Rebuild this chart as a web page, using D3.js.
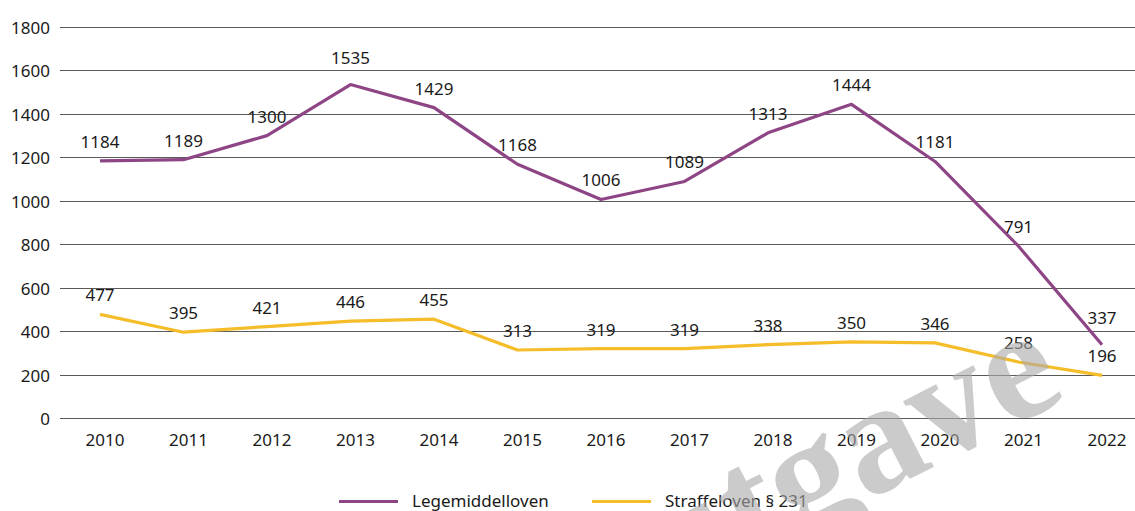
<!DOCTYPE html>
<html>
<head>
<meta charset="utf-8">
<script src="https://cdn.jsdelivr.net/npm/d3@7"></script>
<style>
  body { margin: 0; background: #fff; }
  text { font-family: "Noto Sans", "Open Sans", sans-serif; fill: #1a1a1a; }
</style>
</head>
<body>
<div class="container"></div>
<script>
var years = [2010, 2011, 2012, 2013, 2014, 2015, 2016, 2017, 2018, 2019, 2020, 2021, 2022];
var legemiddelloven = [1184, 1189, 1300, 1535, 1429, 1168, 1006, 1089, 1313, 1444, 1181, 791, 337];
var straffeloven = [477, 395, 421, 446, 455, 313, 319, 319, 338, 350, 346, 258, 196];
var yTicks = [0, 200, 400, 600, 800, 1000, 1200, 1400, 1600, 1800];
var seriesNames = ['Legemiddelloven', 'Straffeloven § 231'];

const WIDTH = 1135;
const HEIGHT = 511;
const PURPLE = '#8e4585';
const YELLOW = '#f5bd2a';

var _svg = d3.select('.container').append('svg')
  .attr('width', WIDTH)
  .attr('height', HEIGHT);

var _xScale = d3.scalePoint().domain(years).range([100, 1102]);
var _yScale = d3.scaleLinear().domain([0, 1800]).range([418, 27]);

// grid + y labels
var grid = _svg.append('g');
yTicks.forEach(function (t) {
  var y = Math.round(_yScale(t)) + 0.5;
  grid.append('line')
    .attr('x1', 60).attr('x2', WIDTH)
    .attr('y1', y).attr('y2', y)
    .attr('stroke', '#5a5a5a').attr('stroke-width', 1);
  grid.append('text')
    .attr('x', 50).attr('y', y + 6)
    .attr('text-anchor', 'end')
    .style('font-size', '17px')
    .text(t);
});

// x labels
_svg.append('g').selectAll('text')
  .data(years).enter().append('text')
  .attr('x', function (d) { return _xScale(d) + 5; })
  .attr('y', 446)
  .attr('text-anchor', 'middle')
  .style('font-size', '17px')
  .text(function (d) { return d; });

var _line = d3.line()
  .x(function (q, i) { return _xScale(years[i]); })
  .y(function (q) { return _yScale(q); });

var drawSeries = function (values, color, raised) {
  _svg.append('path')
    .attr('d', _line(values))
    .attr('fill', 'none')
    .attr('stroke', color)
    .attr('stroke-width', 3.2)
    .attr('stroke-linejoin', 'round');
  _svg.append('g').selectAll('text')
    .data(values).enter().append('text')
    .attr('x', function (d, i) { return _xScale(years[i]); })
    .attr('y', function (d, i) {
      return _yScale(d) - (raised.indexOf(i) >= 0 ? 21 : 13);
    })
    .attr('text-anchor', 'middle')
    .style('font-size', '17px')
    .text(function (d) { return d; });
};

drawSeries(straffeloven, YELLOW, []);
drawSeries(legemiddelloven, PURPLE, [3, 12]);

// legend
var legend = _svg.append('g');
[[PURPLE, 339, seriesNames[0]], [YELLOW, 592, seriesNames[1]]].forEach(function (l) {
  legend.append('line')
    .attr('x1', l[1]).attr('x2', l[1] + 59)
    .attr('y1', 501.5).attr('y2', 501.5)
    .attr('stroke', l[0]).attr('stroke-width', 3.2);
  legend.append('text')
    .attr('x', l[1] + 73).attr('y', 507)
    .style('font-size', '17px')
    .text(l[2]);
});

// watermark
_svg.append('text')
  .attr('transform', 'translate(1069,398) rotate(-27)')
  .attr('text-anchor', 'end')
  .style('font-family', '"Liberation Serif", "DejaVu Serif", serif')
  .style('font-weight', 'bold')
  .style('font-size', '158px')
  .style('fill', '#aaaaaa')
  .style('opacity', 0.6)
  .text('Foreløpig utgave');
</script>
</body>
</html>
